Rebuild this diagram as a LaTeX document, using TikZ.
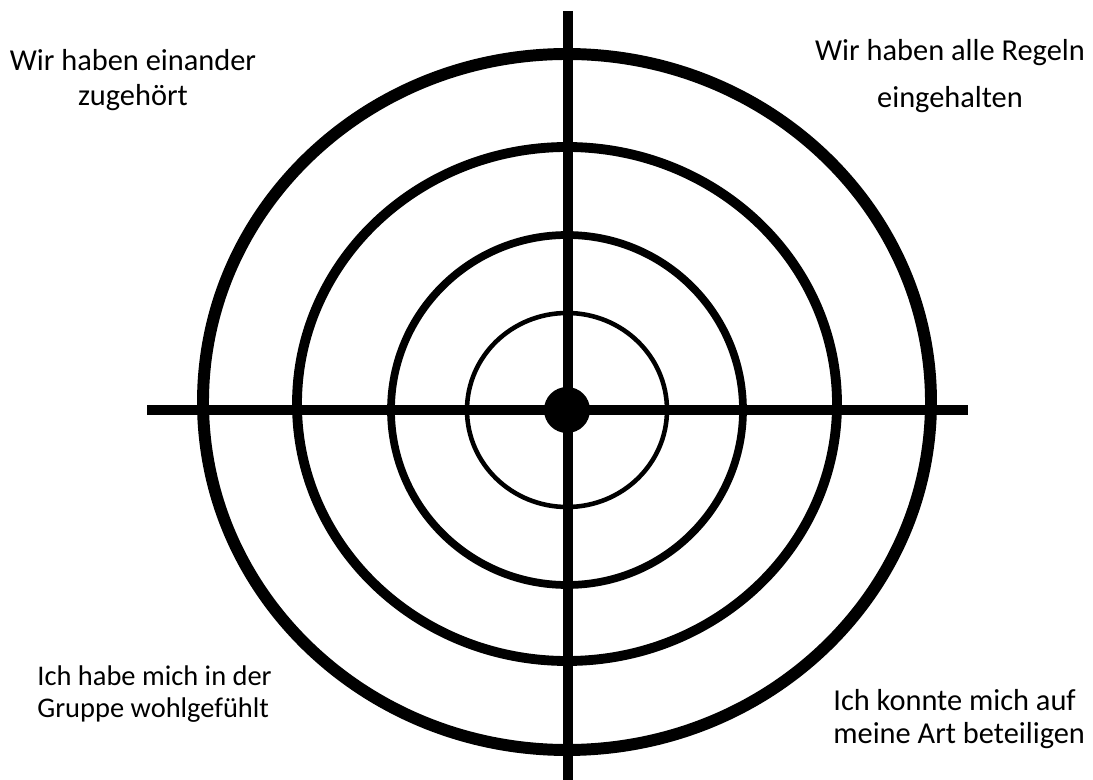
\documentclass[tikz,border=0pt]{standalone}
\usepackage{fontspec}
\setmainfont{Carlito}
\begin{document}
\begin{tikzpicture}[x=0.02cm, y=-0.02cm,
  ring/.style={draw=black},
  cross/.style={line width=5.6pt},
  caption/.style={inner sep=0pt, font=\fontsize{17.3}{19.8}\selectfont}]
  \useasboundingbox (0,0) rectangle (1093,780);
  % Centre
  \coordinate (M) at (567,410);
  % Rings
  \draw[ring, line width=6.8pt] (567,402) ellipse [x radius=364, y radius=348];
  \draw[ring, line width=5.6pt] (567,404) ellipse [x radius=270, y radius=257];
  \draw[ring, line width=4.4pt] (567,410) ellipse [x radius=176, y radius=175];
  \draw[ring, line width=2.6pt] (M) ellipse [x radius=100, y radius=97];
  % Cross
  \coordinate (L) at (147,410);
  \coordinate (R) at (968,410);
  \coordinate (T) at (568,11);
  \coordinate (B) at (568,780);
  \draw[cross] (L) -- (R);
  \draw[cross] (T) -- (B);
  \fill (M) circle [radius=23];
  % Labels
  \node[caption, align=center] (tl) at (133,80) {Wir haben einander\\zugehört};
  \node[caption, align=center, font=\fontsize{17.3}{27}\selectfont] (tr) at (950,76) {Wir haben alle Regeln\\eingehalten};
  \node[caption, align=left, anchor=west, font=\fontsize{16.2}{18.7}\selectfont] (bl) at (37,694) {Ich habe mich in der\\Gruppe wohlgefühlt};
  \node[caption, align=left, anchor=west, font=\fontsize{17.3}{18.7}\selectfont] (br) at (833,719) {Ich konnte mich auf\\meine Art beteiligen};
\end{tikzpicture}
\end{document}
